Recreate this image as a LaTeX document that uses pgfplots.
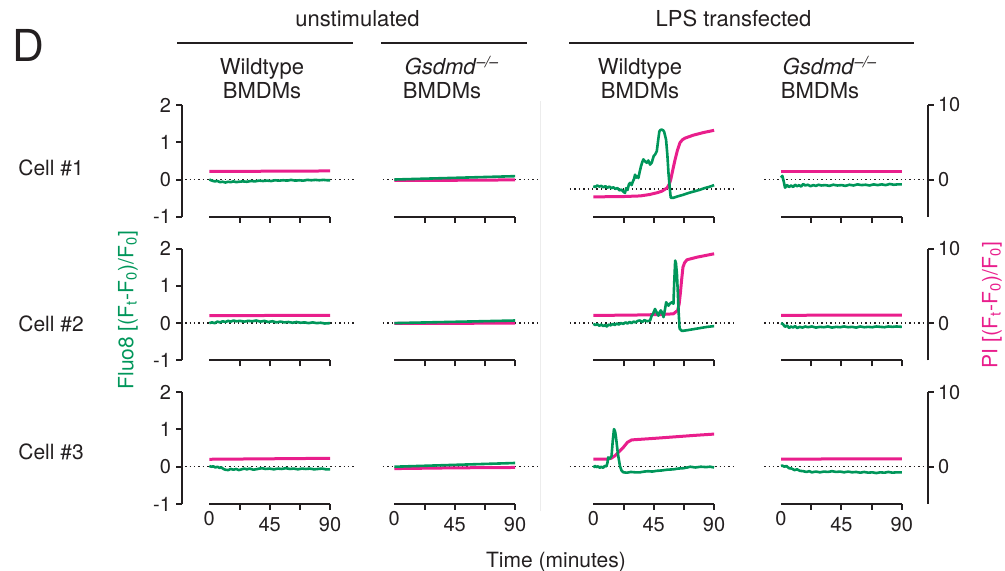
\documentclass[border=0pt]{standalone}
\usepackage{fontspec}
\setmainfont{TeX Gyre Heros}
\usepackage{pgfplots}
\pgfplotsset{compat=1.18}
\definecolor{axcol}{RGB}{35,31,32}
\definecolor{fgreen}{RGB}{0,150,90}
\definecolor{ppink}{RGB}{233,30,140}

\pgfplotsset{
  panel/.style={scale only axis, width=60.4pt, height=55.9pt,
    xmin=0, xmax=90, ymin=-1, ymax=2, clip=false, anchor=south west,
    axis x line*=bottom, axis y line=none,
    x axis line style={-, line width=1pt, axcol},
    xtick={22.5,45,67.5,90}, xticklabels={}, xtick align=outside,
    major tick length=3pt, every tick/.append style={axcol, line width=1pt},
    tick label style={font=\fontsize{10}{12}\selectfont, text=axcol},
    xticklabel style={yshift=-3.5pt},
    /pgf/number format/assume math mode=true},
  bottomrow/.style={xticklabels={,45,,90}, extra x ticks={0},
    extra x tick labels={0}, extra x tick style={major tick length=0pt}},
  yleft/.style={scale only axis, width=1pt, height=55.9pt, xmin=0, xmax=1,
    ymin=-1, ymax=2, anchor=south west, axis x line=none, axis y line*=left,
    y axis line style={-, line width=1pt, axcol}, ytick={-1,0,1,2},
    ytick align=outside, major tick length=3pt,
    every tick/.append style={axcol, line width=1pt},
    tick label style={font=\fontsize{10}{12}\selectfont, text=axcol},
    yticklabel style={xshift=-2.5pt},
    /pgf/number format/assume math mode=true},
  yright/.style={yleft, anchor=south east, axis y line*=right,
    ymin=-5, ymax=10, ytick={0,10}, yticklabel style={xshift=4.5pt}},
  gline/.style={fgreen, line width=1.3pt, line join=round},
  pline/.style={ppink, line width=1.5pt, line join=round, y filter/.expression={y/5}},
  dline/.style={axcol, line width=0.7pt, dash pattern=on 0.7pt off 1.5pt},
}

\begin{document}
\begin{tikzpicture}
\useasboundingbox (0,0) rectangle (502.5pt,285.5pt);
\tikzset{every node/.style={text=axcol, inner sep=0pt}}

% headers
\node[font=\fontsize{22}{26}\selectfont] at (14pt,263pt) {D};
\node[anchor=base, font=\fontsize{11}{13}\selectfont] at (178.75pt,272pt) {unstimulated};
\node[anchor=base, font=\fontsize{11}{13}\selectfont] at (366.75pt,272pt) {LPS transfected};
\draw[axcol, line width=1pt] (88.5pt,263.85pt) -- (176.5pt,263.85pt);
\draw[axcol, line width=1pt] (190.5pt,263.85pt) -- (263.5pt,263.85pt);
\draw[axcol, line width=1pt] (284.5pt,263.85pt) -- (457pt,263.85pt);
\begin{scope}[every node/.append style={anchor=base, font=\fontsize{11}{13}\selectfont}]
\node at (131pt,248pt) {Wildtype};
\node at (131pt,236pt) {BMDMs};
\node at (226pt,248pt) {\textit{Gsdmd}\textsuperscript{\textit{–/–}}};
\node at (221pt,236pt) {BMDMs};
\node at (320pt,248pt) {Wildtype};
\node at (320pt,236pt) {BMDMs};
\node at (415pt,248pt) {\textit{Gsdmd}\textsuperscript{\textit{–/–}}};
\node at (410pt,236pt) {BMDMs};
\end{scope}
\begin{scope}[every node/.append style={anchor=west, font=\fontsize{10.5}{12}\selectfont}]
\node at (9pt,201.5pt) {Cell \#1};
\node at (9pt,123.5pt) {Cell \#2};
\node at (9pt,59.5pt) {Cell \#3};
\end{scope}
\node[rotate=90, text=fgreen, font=\fontsize{10.5}{12}\selectfont] at (64pt,130.5pt)
  {Fluo8 [(F\textsubscript{t}-F\textsubscript{0})/F\textsubscript{0}]};
\node[rotate=90, text=ppink, font=\fontsize{10.5}{12}\selectfont] at (496pt,133pt)
  {PI [(F\textsubscript{t}-F\textsubscript{0})/F\textsubscript{0}]};
\node[font=\fontsize{10.5}{12}\selectfont] at (278pt,4.5pt) {Time (minutes)};
\draw[gray!15, line width=0.5pt] (270pt,235pt) -- (270pt,30pt);

% ---------- row 1 ----------
\begin{axis}[yleft, at={(91.15pt,177.1pt)}]\end{axis}
\begin{axis}[yright, at={(463.85pt,177.1pt)}]\end{axis}

\begin{axis}[panel, at={(104.65pt,177.1pt)}]
\addplot[dline] coordinates {(-18,0) (108,0)};
\addplot[pline] coordinates {(0,1.08) (90,1.15)};
\addplot[gline] coordinates {(0,0.0) (2,-0.03) (4,-0.05) (6,-0.04) (8,-0.07) (10,-0.06) (12,-0.08) (14,-0.06) (16,-0.07) (18,-0.05) (20,-0.07) (22,-0.06) (25,-0.05) (28,-0.06) (31,-0.04) (34,-0.05) (37,-0.03) (40,-0.04) (43,-0.03) (46,-0.04) (49,-0.02) (52,-0.03) (55,-0.02) (58,-0.03) (61,-0.01) (64,-0.03) (67,-0.02) (70,-0.03) (73,-0.01) (76,-0.02) (79,-0.01) (82,-0.02) (85,-0.01) (88,-0.02) (90,-0.02)};
\end{axis}

\begin{axis}[panel, at={(197.15pt,177.1pt)}]
\addplot[dline] coordinates {(-8.6,0) (108.4,0)};
\addplot[pline] coordinates {(0,-0.1) (45,-0.1) (90,-0.05)};
\addplot[gline] coordinates {(0,0.0) (30,0.03) (60,0.06) (90,0.09)};
\end{axis}

\begin{axis}[panel, at={(296.65pt,177.1pt)}, ymin=-0.75, ymax=2.25]
\addplot[dline] coordinates {(-17.4,0) (105.7,0)};
\addplot[pline] coordinates {(0,-1.07) (20,-1.05) (35,-0.95) (42,-0.76) (48,-0.5) (51,-0.32) (53,-0.1) (55,0.13) (56.5,0.6) (57.7,1.25) (59.3,2.6) (60.9,3.9) (62.7,5.2) (64.6,6.2) (66.5,6.6) (68.3,6.8) (74.5,7.2) (82,7.55) (90,7.85)};
\addplot[gline] coordinates {(0,0.07) (1.5,0.05) (3,0.09) (4.5,0.06) (6,0.08) (7.5,0.04) (9,0.07) (10.5,0.03) (12,0.06) (13.5,0.02) (15,0.04) (16.5,0.0) (18,0.02) (19.5,-0.04) (21,-0.02) (22.5,-0.08) (23.6,-0.11) (24.5,0.02) (25.5,-0.03) (26.5,0.12) (27.4,0.16) (28.5,0.1) (29.5,0.2) (30.3,0.26) (31.1,0.38) (32,0.3) (33,0.34) (33.6,0.29) (34.5,0.45) (35.5,0.6) (36.5,0.72) (37.3,0.79) (38.5,0.74) (39.8,0.7) (41,0.76) (42.3,0.65) (43.5,0.7) (45,0.88) (46,0.92) (47.3,1.01) (48.3,1.3) (49.2,1.54) (50,1.58) (51,1.59) (52,1.57) (52.7,1.54) (54.2,1.32) (55.2,0.9) (56,0.43) (57,0.0) (57.7,-0.24) (59.7,-0.24) (63,-0.2) (67,-0.16) (71,-0.11) (75,-0.07) (79,-0.03) (83,0.02) (87,0.06) (90,0.1)};
\end{axis}

\begin{axis}[panel, at={(390.5pt,177.1pt)}]
\addplot[dline] coordinates {(-12.6,0) (108.8,0)};
\addplot[pline] coordinates {(0,1.1) (90,1.1)};
\addplot[gline] coordinates {(0,0.05) (1,0.1) (2,-0.05) (3,-0.22) (4.5,-0.15) (6,-0.2) (7.5,-0.16) (9,-0.2) (10.5,-0.14) (12,-0.18) (13.5,-0.15) (15,-0.19) (16.5,-0.12) (18,-0.16) (20,-0.14) (22,-0.18) (24,-0.15) (26,-0.17) (28,-0.14) (30,-0.16) (33,-0.15) (36,-0.17) (39,-0.14) (42,-0.16) (45,-0.15) (48,-0.17) (51,-0.14) (54,-0.16) (57,-0.13) (60,-0.15) (63,-0.14) (66,-0.16) (69,-0.13) (72,-0.15) (75,-0.13) (78,-0.15) (81,-0.12) (84,-0.14) (87,-0.13) (90,-0.13)};
\end{axis}

% ---------- row 2 ----------
\begin{axis}[yleft, at={(91.15pt,105.3pt)}]\end{axis}
\begin{axis}[yright, at={(463.85pt,105.3pt)}]\end{axis}

\begin{axis}[panel, at={(104.65pt,105.3pt)}]
\addplot[dline] coordinates {(-18,0) (108,0)};
\addplot[pline] coordinates {(0,1.0) (90,1.05)};
\addplot[gline] coordinates {(0,0.0) (2,0.02) (4,0.0) (6,0.04) (8,0.02) (10,0.05) (12,0.03) (14,0.06) (16,0.04) (18,0.07) (20,0.05) (23,0.06) (26,0.04) (29,0.06) (32,0.05) (35,0.07) (38,0.04) (41,0.06) (44,0.03) (47,0.05) (50,0.02) (53,0.04) (56,0.02) (59,0.03) (62,0.01) (65,0.03) (68,0.01) (71,0.02) (74,0.0) (77,0.02) (80,0.0) (83,0.01) (86,-0.01) (90,0.0)};
\end{axis}

\begin{axis}[panel, at={(197.15pt,105.3pt)}]
\addplot[dline] coordinates {(-8.6,0) (108.4,0)};
\addplot[pline] coordinates {(0,-0.05) (90,0.0)};
\addplot[gline] coordinates {(0,0.0) (45,0.035) (90,0.07)};
\end{axis}

\begin{axis}[panel, at={(296.65pt,105.3pt)}]
\addplot[dline] coordinates {(-17.4,0) (105.7,0)};
\addplot[pline] coordinates {(0,1.03) (30,1.08) (50,1.15) (59.7,1.25) (62.8,1.7) (64,2.6) (64.8,3.9) (65.8,5.8) (66.8,7.5) (68,8.1) (69.8,8.5) (77.3,8.85) (90,9.3)};
\addplot[gline] coordinates {(0,-0.02) (1.5,-0.05) (3,-0.03) (4.5,-0.07) (6,-0.04) (7.5,-0.08) (9,-0.05) (10,-0.09) (11.5,-0.04) (13,-0.06) (14.5,-0.02) (16,-0.05) (17.5,-0.01) (19,-0.04) (20.5,0.0) (22.4,-0.02) (24,0.02) (25.5,-0.01) (27,0.03) (28.5,0.0) (30,0.04) (31.5,0.02) (33,0.06) (34.8,0.07) (36.5,0.03) (38,0.08) (40,0.05) (42.3,0.07) (43.5,0.2) (44.5,0.25) (46,0.38) (47,0.3) (48.5,0.2) (49.5,0.3) (50.3,0.34) (51.3,0.28) (52.3,0.16) (53.3,0.35) (54.3,0.56) (55,0.52) (56,0.47) (57,0.52) (58.5,0.56) (59.7,0.52) (60.3,1.1) (61,1.68) (61.6,1.6) (62.3,1.32) (63,0.8) (63.5,0.34) (64.3,-0.15) (66,-0.21) (70,-0.19) (75,-0.16) (80,-0.13) (85,-0.1) (90,-0.08)};
\end{axis}

\begin{axis}[panel, at={(390.5pt,105.3pt)}]
\addplot[dline] coordinates {(-12.6,0) (108.8,0)};
\addplot[pline] coordinates {(0,1.05) (90,1.08)};
\addplot[gline] coordinates {(0,0.0) (1.5,-0.03) (3,-0.1) (4.5,-0.06) (6,-0.13) (7.5,-0.09) (9,-0.12) (10.5,-0.08) (12,-0.13) (14,-0.1) (16,-0.12) (18,-0.09) (20,-0.11) (23,-0.09) (26,-0.12) (29,-0.1) (32,-0.11) (35,-0.09) (38,-0.12) (41,-0.1) (44,-0.11) (47,-0.09) (50,-0.11) (53,-0.1) (56,-0.12) (59,-0.09) (62,-0.11) (65,-0.1) (68,-0.11) (71,-0.09) (74,-0.1) (77,-0.11) (80,-0.09) (83,-0.1) (86,-0.09) (90,-0.1)};
\end{axis}

% ---------- row 3 ----------
\begin{axis}[yleft, at={(91.15pt,33.5pt)}]\end{axis}
\begin{axis}[yright, at={(463.85pt,33.5pt)}]\end{axis}

\begin{axis}[panel, bottomrow, at={(104.65pt,33.5pt)}]
\addplot[dline] coordinates {(-18,0) (108,0)};
\addplot[pline] coordinates {(0,1.0) (90,1.13)};
\addplot[gline] coordinates {(0,0.02) (1.5,0.0) (3,0.01) (4.5,-0.02) (6,0.0) (7.5,-0.03) (9,-0.02) (10.5,-0.06) (12,-0.08) (14,-0.09) (16,-0.06) (18,-0.08) (20,-0.06) (22,-0.09) (24,-0.07) (26,-0.05) (28,-0.07) (30,-0.05) (33,-0.08) (36,-0.06) (39,-0.04) (42,-0.06) (45,-0.05) (48,-0.07) (51,-0.05) (54,-0.06) (57,-0.04) (60,-0.06) (63,-0.05) (66,-0.07) (69,-0.05) (72,-0.06) (75,-0.05) (78,-0.07) (81,-0.06) (84,-0.05) (87,-0.07) (90,-0.07)};
\end{axis}

\begin{axis}[panel, bottomrow, at={(197.15pt,33.5pt)}]
\addplot[dline] coordinates {(-8.6,0) (108.4,0)};
\addplot[pline] coordinates {(0,-0.25) (45,-0.15) (90,-0.1)};
\addplot[gline] coordinates {(0,0.0) (45,0.05) (90,0.1)};
\end{axis}

\begin{axis}[panel, bottomrow, at={(296.65pt,33.5pt)}]
\addplot[dline] coordinates {(-17.4,0) (105.7,0)};
\addplot[pline] coordinates {(0,1.03) (11.1,1.03) (13.5,1.15) (16.1,1.47) (19,2.0) (22.4,2.6) (25.4,3.27) (28.6,3.6) (45,3.8) (60,4.0) (75,4.2) (90,4.38)};
\addplot[gline] coordinates {(0,-0.02) (1.2,0.02) (2.4,-0.01) (3.6,0.01) (4.8,-0.03) (6,0.0) (7.3,-0.03) (8.5,0.02) (9.8,0.01) (10.5,0.1) (11.1,0.25) (12.3,0.22) (13.6,0.29) (14.5,0.7) (15.4,1.01) (16.2,0.95) (16.9,0.79) (18.3,0.35) (19.9,0.01) (21,-0.1) (22.4,-0.15) (25,-0.16) (28,-0.14) (31,-0.15) (34.8,-0.15) (38,-0.13) (41,-0.12) (44,-0.13) (47.3,-0.11) (51,-0.1) (55,-0.08) (59.7,-0.07) (63,-0.05) (67,-0.04) (70,-0.02) (72.2,0.0) (76,-0.02) (80,0.0) (84,-0.01) (87,0.0) (90,-0.02)};
\end{axis}

\begin{axis}[panel, bottomrow, at={(390.5pt,33.5pt)}]
\addplot[dline] coordinates {(-12.6,0) (108.8,0)};
\addplot[pline] coordinates {(0,1.03) (90,1.05)};
\addplot[gline] coordinates {(0,0.02) (1,0.03) (2.5,0.0) (4,0.02) (6,-0.04) (8,-0.05) (10,-0.09) (12,-0.07) (14,-0.11) (16.5,-0.12) (19,-0.14) (21,-0.12) (23,-0.15) (26,-0.13) (29,-0.15) (32,-0.13) (35,-0.14) (38,-0.12) (41,-0.14) (44,-0.13) (47,-0.15) (50,-0.13) (53,-0.15) (56,-0.14) (59,-0.16) (62,-0.14) (65,-0.16) (68,-0.15) (71,-0.17) (74,-0.15) (77,-0.16) (80,-0.14) (83,-0.16) (86,-0.15) (90,-0.15)};
\end{axis}
\end{tikzpicture}
\end{document}
